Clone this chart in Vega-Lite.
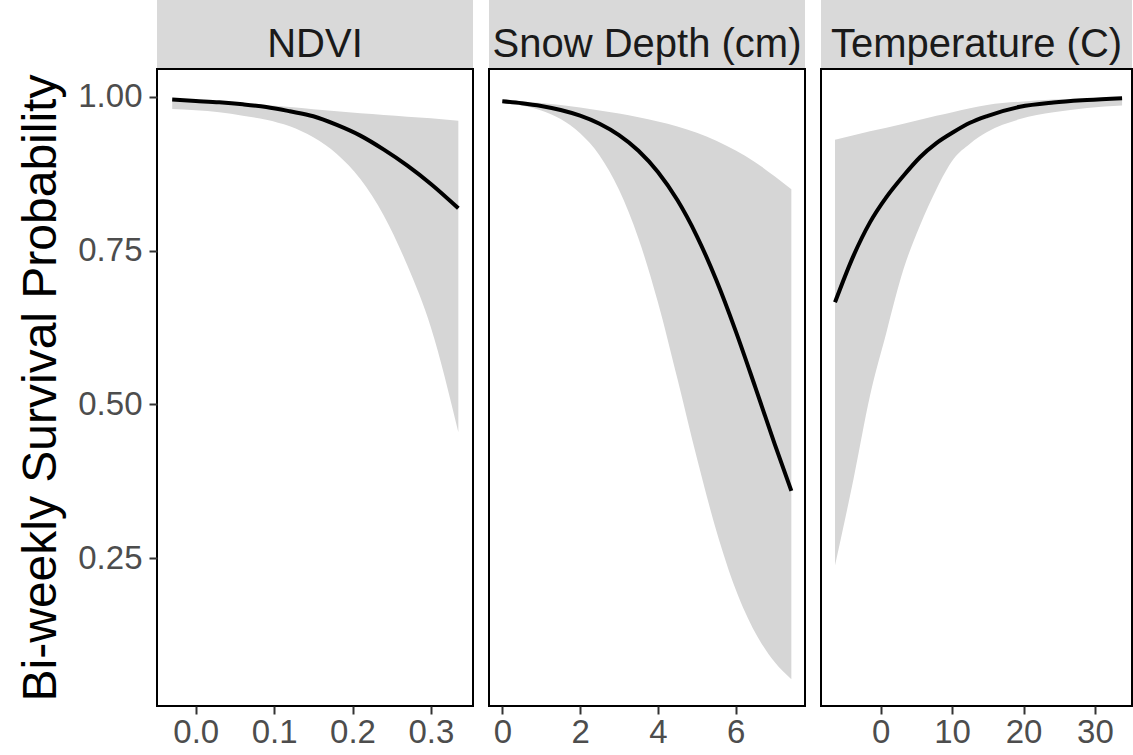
{
  "$schema": "https://vega.github.io/schema/vega-lite/v6.json",
  "padding": {"left": 16, "top": 0, "right": 0, "bottom": 0},
  "background": "white",
  "config": {
    "font": "Liberation Sans",
    "view": {"stroke": "black", "strokeWidth": 2},
    "axis": {
      "grid": false, "domain": false,
      "tickColor": "#333333", "tickWidth": 2, "tickSize": 8,
      "labelColor": "#4D4D4D", "labelFontSize": 33, "labelPadding": 2,
      "titleFontSize": 48, "titleFontWeight": "normal", "titleColor": "black", "titlePadding": 12
    }
  },
  "datasets": {
    "ndvi": [
      {"x": -0.03, "fit": 0.9957, "lo": 0.9805, "hi": 0.9978},
      {"x": 0.0, "fit": 0.9935, "lo": 0.9783, "hi": 0.9955},
      {"x": 0.03, "fit": 0.9913, "lo": 0.9751, "hi": 0.993},
      {"x": 0.06, "fit": 0.9881, "lo": 0.9696, "hi": 0.9905},
      {"x": 0.09, "fit": 0.9837, "lo": 0.9631, "hi": 0.987},
      {"x": 0.12, "fit": 0.9767, "lo": 0.9523, "hi": 0.9835},
      {"x": 0.15, "fit": 0.9686, "lo": 0.9344, "hi": 0.98},
      {"x": 0.18, "fit": 0.9545, "lo": 0.9073, "hi": 0.9767},
      {"x": 0.21, "fit": 0.9371, "lo": 0.8666, "hi": 0.9734},
      {"x": 0.24, "fit": 0.9143, "lo": 0.807, "hi": 0.9707},
      {"x": 0.27, "fit": 0.8883, "lo": 0.7257, "hi": 0.968},
      {"x": 0.30, "fit": 0.8585, "lo": 0.625, "hi": 0.9653},
      {"x": 0.335, "fit": 0.8189, "lo": 0.4546, "hi": 0.9615}
    ],
    "snow": [
      {"x": 0.0, "fit": 0.993, "lo": 0.991, "hi": 0.995},
      {"x": 0.5, "fit": 0.9898, "lo": 0.986, "hi": 0.993},
      {"x": 1.0, "fit": 0.9853, "lo": 0.978, "hi": 0.99},
      {"x": 1.5, "fit": 0.9788, "lo": 0.964, "hi": 0.987},
      {"x": 2.0, "fit": 0.9696, "lo": 0.941, "hi": 0.983},
      {"x": 2.5, "fit": 0.9565, "lo": 0.905, "hi": 0.978},
      {"x": 3.0, "fit": 0.938, "lo": 0.849, "hi": 0.973},
      {"x": 3.5, "fit": 0.9126, "lo": 0.77, "hi": 0.967},
      {"x": 4.0, "fit": 0.878, "lo": 0.666, "hi": 0.96},
      {"x": 4.5, "fit": 0.8323, "lo": 0.542, "hi": 0.952},
      {"x": 5.0, "fit": 0.7738, "lo": 0.413, "hi": 0.942},
      {"x": 5.5, "fit": 0.7023, "lo": 0.295, "hi": 0.929},
      {"x": 6.0, "fit": 0.6192, "lo": 0.199, "hi": 0.913},
      {"x": 6.5, "fit": 0.5285, "lo": 0.129, "hi": 0.894},
      {"x": 7.0, "fit": 0.4359, "lo": 0.081, "hi": 0.871},
      {"x": 7.43, "fit": 0.3594, "lo": 0.053, "hi": 0.85}
    ],
    "temp": [
      {"x": -6.4, "fit": 0.666, "lo": 0.238, "hi": 0.9306},
      {"x": -3.8, "fit": 0.742, "lo": 0.379, "hi": 0.9377},
      {"x": -1.5, "fit": 0.796, "lo": 0.514, "hi": 0.9442},
      {"x": 0.8, "fit": 0.837, "lo": 0.617, "hi": 0.9501},
      {"x": 3.2, "fit": 0.872, "lo": 0.72, "hi": 0.9566},
      {"x": 5.5, "fit": 0.902, "lo": 0.791, "hi": 0.9631},
      {"x": 7.8, "fit": 0.925, "lo": 0.85, "hi": 0.9694},
      {"x": 10.2, "fit": 0.943, "lo": 0.899, "hi": 0.9756},
      {"x": 12.5, "fit": 0.958, "lo": 0.924, "hi": 0.9815},
      {"x": 14.9, "fit": 0.969, "lo": 0.943, "hi": 0.987},
      {"x": 19.5, "fit": 0.984, "lo": 0.964, "hi": 0.9924},
      {"x": 24.2, "fit": 0.991, "lo": 0.975, "hi": 0.9957},
      {"x": 28.9, "fit": 0.995, "lo": 0.982, "hi": 0.998},
      {"x": 33.8, "fit": 0.998, "lo": 0.986, "hi": 0.9992}
    ]
  },
  "spacing": 14,
  "hconcat": [
    {
      "spacing": 0,
      "vconcat": [
        {
          "width": 316, "height": 68,
          "data": {"values": [{"label": "NDVI"}]},
          "view": {"fill": "#D9D9D9", "stroke": null},
          "mark": {"type": "text", "fontSize": 40, "color": "#1A1A1A", "baseline": "middle", "dy": 11},
          "encoding": {"text": {"field": "label"}}
        },
        {
          "width": 316, "height": 637,
          "data": {"name": "ndvi"},
          "layer": [
            {
              "mark": {"type": "area", "color": "#D6D6D6", "interpolate": "monotone"},
              "encoding": {
                "x": {"field": "x", "type": "quantitative", "scale": {"domain": [-0.0494, 0.3537], "nice": false, "zero": false},
                      "axis": {"values": [0, 0.1, 0.2, 0.3], "format": ".1f", "title": null}},
                "y": {"field": "lo", "type": "quantitative", "scale": {"domain": [0.0094, 1.0455], "nice": false, "zero": false},
                      "axis": {"values": [0.25, 0.5, 0.75, 1.0], "format": ".2f", "labelPadding": 7, "title": "Bi-weekly Survival Probability"}},
                "y2": {"field": "hi"}
              }
            },
            {
              "mark": {"type": "line", "color": "black", "strokeWidth": 4, "interpolate": "monotone"},
              "encoding": {
                "x": {"field": "x", "type": "quantitative"},
                "y": {"field": "fit", "type": "quantitative"}
              }
            }
          ]
        }
      ]
    },
    {
      "spacing": 0,
      "vconcat": [
        {
          "width": 316, "height": 68,
          "data": {"values": [{"label": "Snow Depth (cm)"}]},
          "view": {"fill": "#D9D9D9", "stroke": null},
          "mark": {"type": "text", "fontSize": 40, "color": "#1A1A1A", "baseline": "middle", "dy": 11},
          "encoding": {"text": {"field": "label"}}
        },
        {
          "width": 316, "height": 637,
          "data": {"name": "snow"},
          "layer": [
            {
              "mark": {"type": "area", "color": "#D6D6D6", "interpolate": "monotone"},
              "encoding": {
                "x": {"field": "x", "type": "quantitative", "scale": {"domain": [-0.342, 7.781], "nice": false, "zero": false},
                      "axis": {"values": [0, 2, 4, 6], "format": "d", "title": null}},
                "y": {"field": "lo", "type": "quantitative", "scale": {"domain": [0.0094, 1.0455], "nice": false, "zero": false}, "axis": null},
                "y2": {"field": "hi"}
              }
            },
            {
              "mark": {"type": "line", "color": "black", "strokeWidth": 4, "interpolate": "monotone"},
              "encoding": {
                "x": {"field": "x", "type": "quantitative"},
                "y": {"field": "fit", "type": "quantitative"}
              }
            }
          ]
        }
      ]
    },
    {
      "spacing": 0,
      "vconcat": [
        {
          "width": 311, "height": 68,
          "data": {"values": [{"label": "Temperature (C)"}]},
          "view": {"fill": "#D9D9D9", "stroke": null},
          "mark": {"type": "text", "fontSize": 40, "color": "#1A1A1A", "baseline": "middle", "dy": 11},
          "encoding": {"text": {"field": "label"}}
        },
        {
          "width": 311, "height": 637,
          "data": {"name": "temp"},
          "layer": [
            {
              "mark": {"type": "area", "color": "#D6D6D6", "interpolate": "monotone"},
              "encoding": {
                "x": {"field": "x", "type": "quantitative", "scale": {"domain": [-8.36, 35.19], "nice": false, "zero": false},
                      "axis": {"values": [0, 10, 20, 30], "format": "d", "title": null}},
                "y": {"field": "lo", "type": "quantitative", "scale": {"domain": [0.0094, 1.0455], "nice": false, "zero": false}, "axis": null},
                "y2": {"field": "hi"}
              }
            },
            {
              "mark": {"type": "line", "color": "black", "strokeWidth": 4, "interpolate": "monotone"},
              "encoding": {
                "x": {"field": "x", "type": "quantitative"},
                "y": {"field": "fit", "type": "quantitative"}
              }
            }
          ]
        }
      ]
    }
  ]
}
